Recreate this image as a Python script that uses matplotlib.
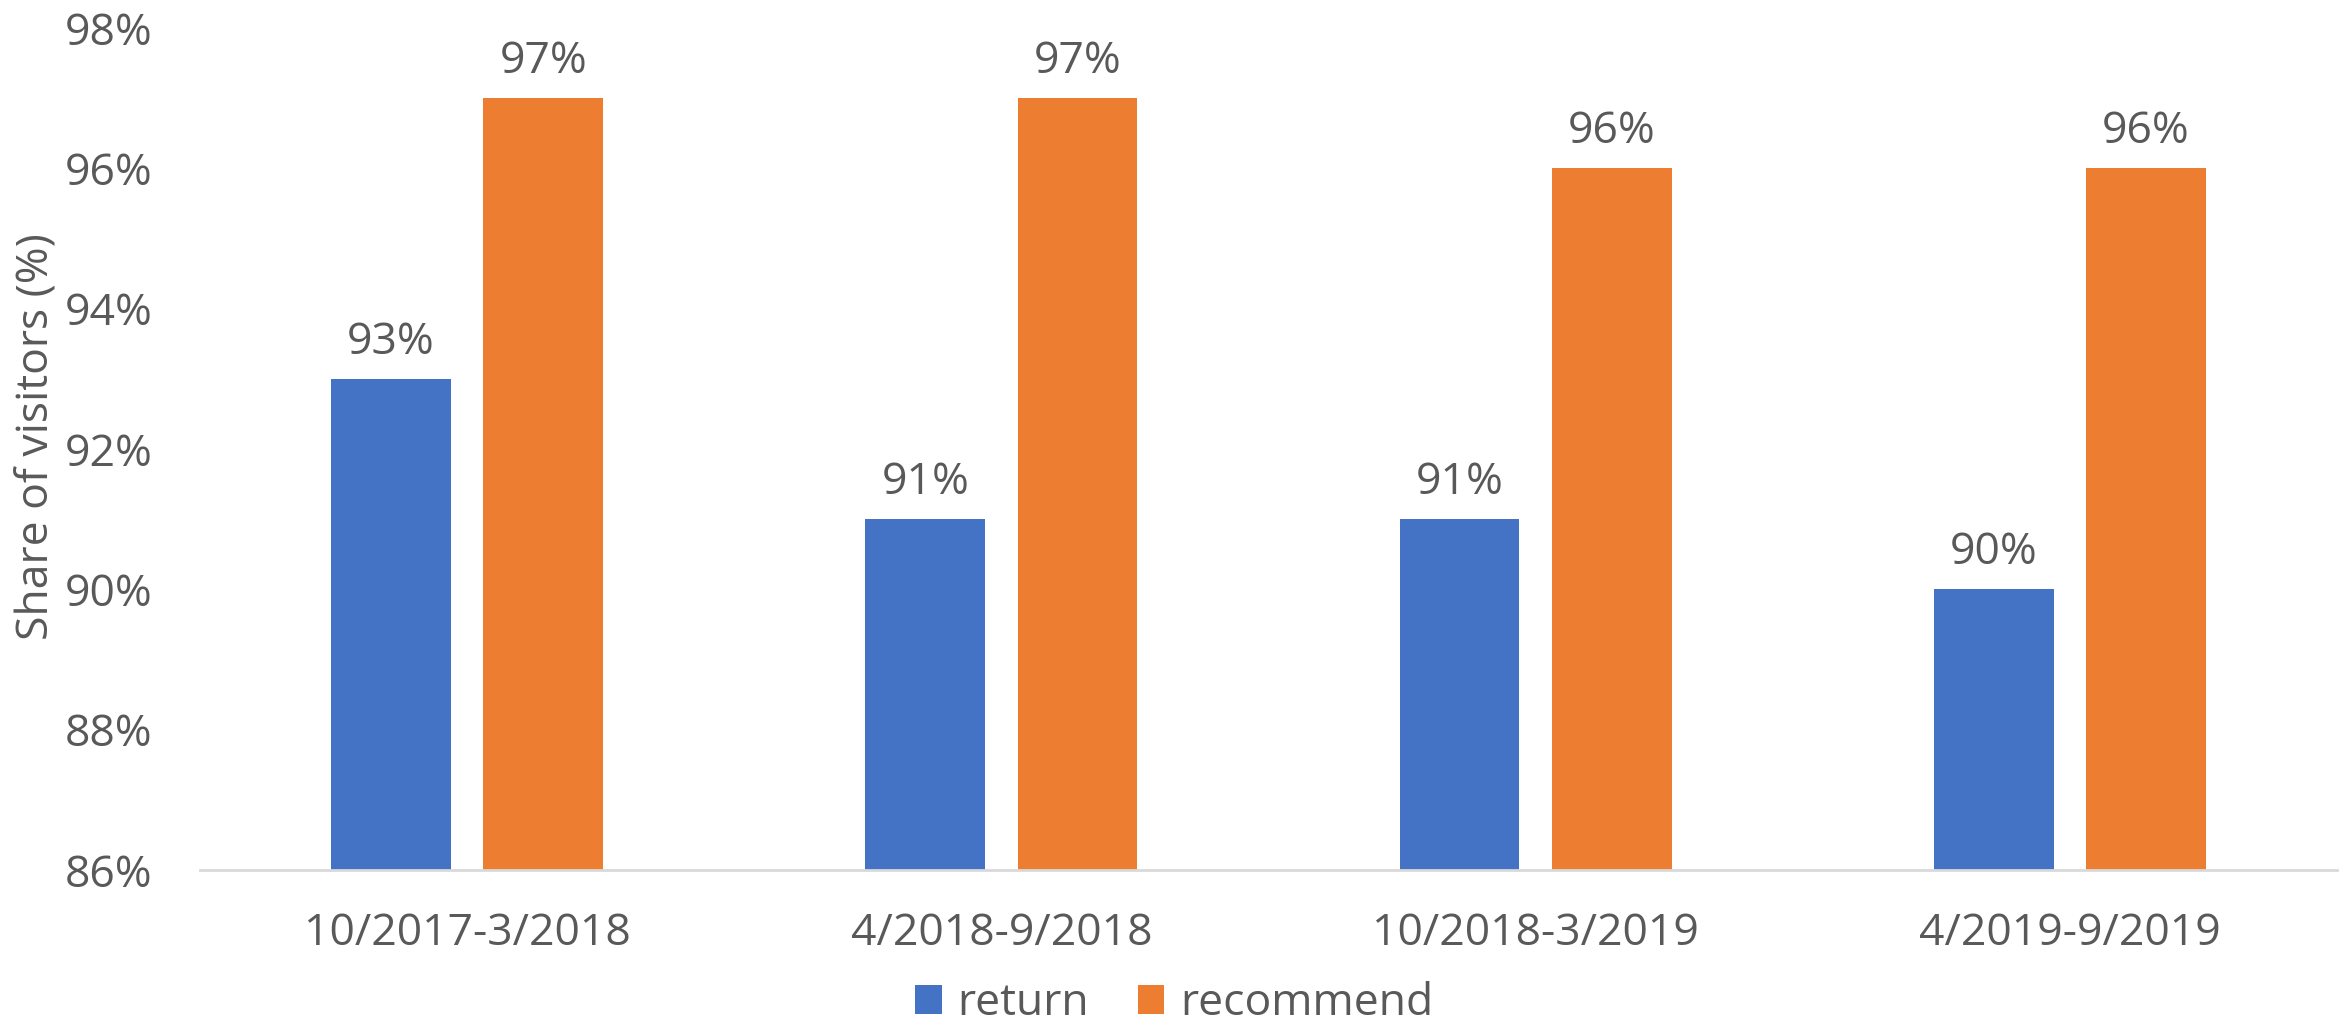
import matplotlib.pyplot as plt
import numpy as np

periods = ['10/2017-3/2018', '4/2018-9/2018', '10/2018-3/2019', '4/2019-9/2019']
ret = [93, 91, 91, 90]
recommend = [97, 97, 96, 96]
yticks = [86, 88, 90, 92, 94, 96, 98]

plt.rcParams['font.family'] = ['Open Sans', 'DejaVu Sans']
grey = '#595959'

fig = plt.figure(figsize=(23.48, 10.32), dpi=100)
ax = fig.add_axes([200/2348, 1-870/1032, (2337-200)/2348, (870-28)/1032])

x = np.arange(len(periods))
w = 0.224
b1 = ax.bar(x - 0.1425, ret, w, bottom=0, color='#4472C4', label='return')
b2 = ax.bar(x + 0.1425, recommend, w, bottom=0, color='#ED7D31', label='recommend')

# value labels above each bar
for bars, vals in [(b1, ret), (b2, recommend)]:
    for r, v in zip(bars, vals):
        ax.annotate(f'{v}%', (r.get_x() + r.get_width()/2, v), xytext=(0, 10),
                    textcoords='offset points', ha='center', va='bottom',
                    fontsize=32, color=grey)

ax.set_ylim(86, 98)
ax.set_xlim(-0.5, 3.5)
ax.set_yticks(yticks)
ax.set_yticklabels([f'{t}%' for t in yticks])
ax.set_xticks(x)
ax.set_xticklabels(periods)
ax.tick_params(axis='y', length=0, pad=34, labelsize=32, labelcolor=grey)
ax.tick_params(axis='x', length=0, pad=30, labelsize=32, labelcolor=grey)
for s in ['top', 'right', 'left']:
    ax.spines[s].set_visible(False)
ax.spines['bottom'].set_color('#D9D9D9')
ax.spines['bottom'].set_linewidth(2)

fig.text(37/2348, 1-437/1032, 'Share of visitors (%)', rotation=90,
         ha='center', va='center', fontsize=32, color=grey)

fig.legend(loc='center', bbox_to_anchor=(0.5, 1-1004/1032), ncol=2, frameon=False,
           fontsize=32, labelcolor=grey, handlelength=0.6, handleheight=0.6,
           handletextpad=0.35, columnspacing=1.1, borderpad=0.2)

fig.savefig('out.png', dpi=100)
